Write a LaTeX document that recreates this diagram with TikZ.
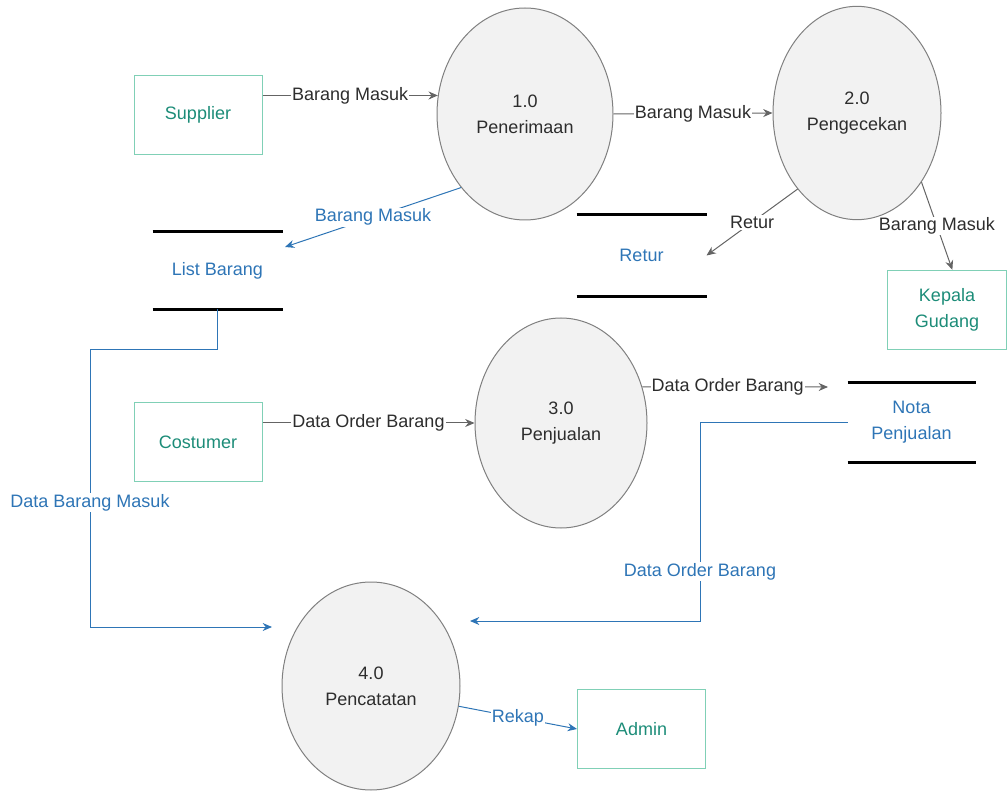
\documentclass[tikz,border=0pt]{standalone}
\usepackage{fontspec}
\setmainfont{Liberation Sans}
\usetikzlibrary{shapes.geometric,arrows.meta}
\definecolor{boxline}{RGB}{128,208,182}
\definecolor{boxtext}{RGB}{28,140,120}
\definecolor{flowgray}{RGB}{100,100,100}
\definecolor{flowblue}{RGB}{46,117,182}
\definecolor{procfill}{RGB}{242,242,242}
\definecolor{procline}{RGB}{128,128,128}
\definecolor{labeltext}{RGB}{45,45,45}
\tikzset{every picture/.style={line width=0.75pt}}
\tikzset{
	entity/.style={draw=boxline, text=boxtext, minimum width=96pt, minimum height=59.5pt, align=center, inner sep=0pt},
	process/.style={ellipse, draw=procline, fill=procfill, text=labeltext, align=center, inner sep=0pt},
	store/.style={minimum width=96.75pt, minimum height=59pt, text=flowblue, align=center, inner sep=0pt},
	storeline/.style={line width=2.6pt, black},
	flow/.style={draw=flowgray, -{Stealth[length=7pt,width=6pt]}},
	bflow/.style={draw=flowblue, -{Stealth[length=7pt,width=6pt]}},
	flowlabel/.style={fill=white, text=labeltext, inner sep=0.75pt},
	blabel/.style={fill=white, text=flowblue, inner sep=0.75pt},
}

\begin{document}
\begin{tikzpicture}[x=0.75pt,y=0.75pt,yscale=-1,xscale=1,every node/.style={font=\fontsize{13.5}{19.5}\selectfont}]
		\useasboundingbox (0,0) rectangle (1007,791);
		
		% entitas luar
		\node[entity] (sup) at (198,115) {Supplier};
		\node[entity] (cos) at (198,442) {Costumer};
		\node[entity] (adm) at (641.5,729) {Admin};
		\node[entity, minimum width=89pt] (kg) at (947,310) {Kepala\\Gudang};
		
		% proses
		\node[process, minimum width=132pt, minimum height=159pt] (p1) at (525,114) {1.0\\Penerimaan};
		\node[process, minimum width=126pt, minimum height=160pt] (p2) at (857,113) {2.0\\Pengecekan};
		\node[process, minimum width=129pt, minimum height=157.5pt] (p3) at (561,423) {3.0\\Penjualan};
		\node[process, minimum width=133.5pt, minimum height=156pt] (p4) at (371,686) {4.0\\Pencatatan};
		
		% data store
		\node[store, minimum height=57.75pt] (lb) at (217.5,270.5) {List Barang};
		\node[store, minimum height=60.75pt] (ret) at (641.5,255.5) {Retur};
		\node[store, minimum width=95.25pt, minimum height=59.25pt] (nota) at (911.5,422.5) {Nota\\Penjualan};
		\draw[storeline] (lb.north west) -- (lb.north east) (lb.south west) -- (lb.south east);
		\draw[storeline] (ret.north west) -- (ret.north east) (ret.south west) -- (ret.south east);
		\draw[storeline] (nota.north west) -- (nota.north east) (nota.south west) -- (nota.south east);
		
		\coordinate (lbin) at (285,247);
		\coordinate (notain) at (828,387);
		\coordinate (p4a) at (272,627);
		\coordinate (p4b) at (470,621);
		
		% aliran data
		\draw[flow] (sup.east |- p1.168) -- node[flowlabel] {Barang Masuk} (p1.168);
		\draw[flow] (p1.east) -- node[flowlabel] {Barang Masuk} (p2.west);
		\draw[flow] (p2.232) -- node[flowlabel] {Retur} (ret.east);
		\draw[flow] (p2.313) -- node[flowlabel] {Barang Masuk} ([xshift=4pt]kg.north);
		\draw[bflow] (p1.229.6) -- node[blabel] {Barang Masuk} (lbin);
		\draw[bflow] (lb.south) |- (90,350) -- node[blabel, pos=0.55] {Data Barang Masuk} (90,627) -- (p4a);
		\draw[flow] (cos.east |- p3.west) -- node[flowlabel] {Data Order Barang} (p3.west);
		\draw[flow] (p3.24) -- node[flowlabel, pos=0.46] {Data Order Barang} (notain);
		\draw[bflow] (nota.west) -- (700,422.5) -- node[blabel, pos=0.75] {Data Order Barang} (700,621) -- (p4b);
		\draw[bflow] (p4.347.7) -- node[blabel] {Rekap} (adm.west);
		
\end{tikzpicture}
\end{document}
